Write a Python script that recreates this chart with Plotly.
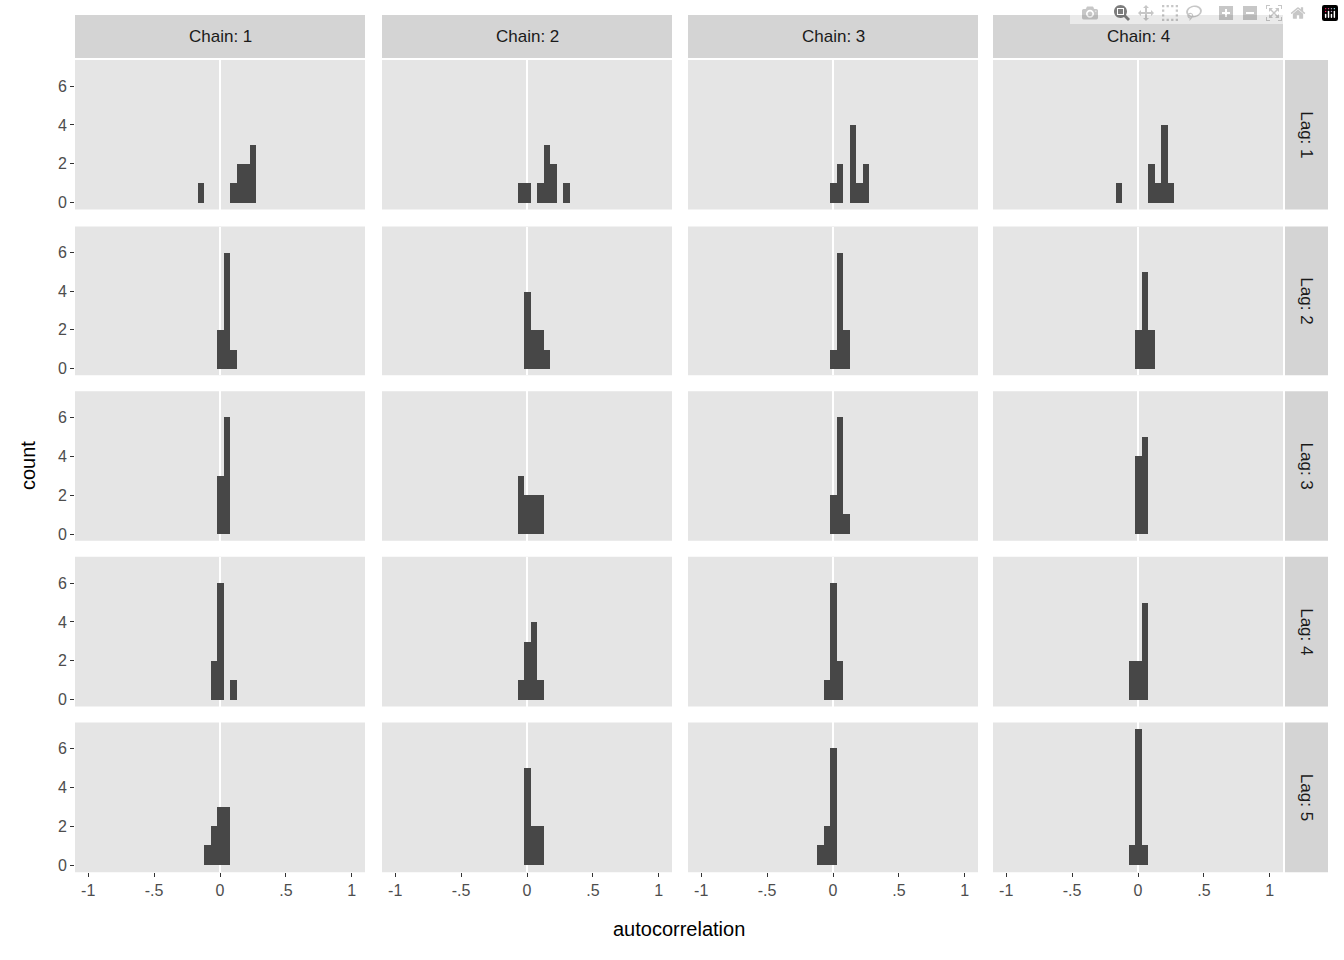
import plotly.graph_objects as go
from plotly.subplots import make_subplots

# histogram bins shared by all panels: bin k spans [EDGE0 + k*BINW, EDGE0 + (k+1)*BINW]
BINW = 0.0495
EDGE0 = 0.0285

chains = ["Chain: 1", "Chain: 2", "Chain: 3", "Chain: 4"]
lags = ["Lag: 1", "Lag: 2", "Lag: 3", "Lag: 4", "Lag: 5"]

# counts[lag][chain] = {bin index: count}
lag1 = [{-4: 1, 1: 1, 2: 2, 3: 2, 4: 3},
        {-2: 1, -1: 1, 1: 1, 2: 3, 3: 2, 5: 1},
        {-1: 1, 0: 2, 2: 4, 3: 1, 4: 2},
        {-4: 1, 1: 2, 2: 1, 3: 4, 4: 1}]
lag2 = [{-1: 2, 0: 6, 1: 1},
        {-1: 4, 0: 2, 1: 2, 2: 1},
        {-1: 1, 0: 6, 1: 2},
        {-1: 2, 0: 5, 1: 2}]
lag3 = [{-1: 3, 0: 6},
        {-2: 3, -1: 2, 0: 2, 1: 2},
        {-1: 2, 0: 6, 1: 1},
        {-1: 4, 0: 5}]
lag4 = [{-2: 2, -1: 6, 1: 1},
        {-2: 1, -1: 3, 0: 4, 1: 1},
        {-2: 1, -1: 6, 0: 2},
        {-2: 2, -1: 2, 0: 5}]
lag5 = [{-3: 1, -2: 2, -1: 3, 0: 3},
        {-1: 5, 0: 2, 1: 2},
        {-3: 1, -2: 2, -1: 6},
        {-2: 1, -1: 7, 0: 1}]
counts = [lag1, lag2, lag3, lag4, lag5]

xtickvals = [-1, -0.5, 0, 0.5, 1]
xticktext = ["-1", "-.5", "0", ".5", "1"]
ytickvals = [0, 2, 4, 6]

W, H = 1344, 960
col_px = [(75, 365), (382, 672), (688, 978), (993, 1283)]
row_px = [(60, 210), (227, 376), (392, 542), (558, 708), (724, 874)]

fig = make_subplots(rows=5, cols=4)

for r in range(5):
    for c in range(4):
        d = counts[r][c]
        ks = sorted(d)
        fig.add_trace(go.Bar(
            x=[EDGE0 + (k + 0.5) * BINW for k in ks],
            y=[d[k] for k in ks],
            width=BINW,
            marker=dict(color="#474747", line=dict(width=0)),
            showlegend=False,
        ), row=r + 1, col=c + 1)
        fig.update_xaxes(
            domain=[col_px[c][0] / W, col_px[c][1] / W],
            range=[-1.1, 1.1], showgrid=False,
            zeroline=True, zerolinecolor="white", zerolinewidth=2,
            tickvals=xtickvals, ticktext=xticktext,
            showticklabels=(r == 4), ticks="outside" if r == 4 else "",
            ticklen=4, tickcolor="#333333",
            tickfont=dict(size=16, color="#4d4d4d"),
            row=r + 1, col=c + 1)
        fig.update_yaxes(
            domain=[1 - row_px[r][1] / H, 1 - row_px[r][0] / H],
            range=[-0.35, 7.35], showgrid=False, zeroline=False,
            tickvals=ytickvals,
            showticklabels=(c == 0), ticks="outside" if c == 0 else "",
            ticklen=4, tickcolor="#333333",
            tickfont=dict(size=16, color="#4d4d4d"),
            row=r + 1, col=c + 1)
        # panel background
        fig.add_shape(type="rect", xref="paper", yref="paper",
                      x0=col_px[c][0] / W, x1=col_px[c][1] / W,
                      y0=1 - row_px[r][1] / H, y1=1 - row_px[r][0] / H,
                      fillcolor="#e5e5e5", line=dict(width=0), layer="below")

# top strips
for c, lab in enumerate(chains):
    fig.add_shape(type="rect", xref="paper", yref="paper",
                  x0=col_px[c][0] / W, x1=col_px[c][1] / W,
                  y0=1 - 58 / H, y1=1 - 15 / H,
                  fillcolor="#d4d4d4", line=dict(width=0))
    fig.add_annotation(x=(col_px[c][0] + col_px[c][1]) / 2 / W, y=1 - 37 / H,
                       xref="paper", yref="paper", text=lab, showarrow=False,
                       xanchor="center", yanchor="middle",
                       font=dict(size=17, color="#1a1a1a"))

# right strips
for r, lab in enumerate(lags):
    fig.add_shape(type="rect", xref="paper", yref="paper",
                  x0=1285 / W, x1=1328 / W,
                  y0=1 - row_px[r][1] / H, y1=1 - row_px[r][0] / H,
                  fillcolor="#d4d4d4", line=dict(width=0))
    fig.add_annotation(x=1306.5 / W, y=1 - (row_px[r][0] + row_px[r][1]) / 2 / H,
                       xref="paper", yref="paper", text=lab, showarrow=False,
                       xanchor="center", yanchor="middle",
                       textangle=90, font=dict(size=17, color="#1a1a1a"))

fig.add_annotation(x=679 / W, y=1 - 931 / H, xref="paper", yref="paper",
                   text="autocorrelation", showarrow=False,
                   xanchor="center", yanchor="middle",
                   font=dict(size=20, color="black"))
fig.add_annotation(x=28 / W, y=1 - 467 / H, xref="paper", yref="paper",
                   text="count", showarrow=False, textangle=-90,
                   xanchor="center", yanchor="middle",
                   font=dict(size=20, color="black"))

fig.update_layout(
    width=W, height=H, margin=dict(l=0, r=0, t=0, b=0),
    paper_bgcolor="white", plot_bgcolor="rgba(0,0,0,0)",
    font=dict(family="Liberation Sans, Arial, sans-serif"),
    bargap=0,
)

fig.write_html("out.html", post_script="document.body.style.margin='0';")
